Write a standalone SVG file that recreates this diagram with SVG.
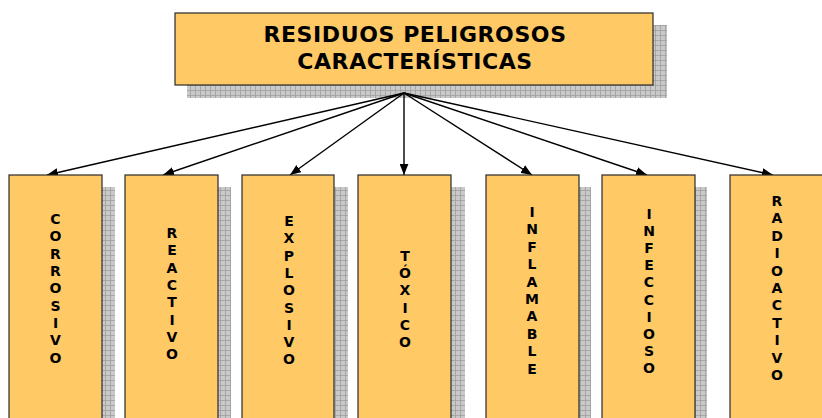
<svg xmlns="http://www.w3.org/2000/svg" width="822" height="418" viewBox="0 0 822 418">
<defs>
<pattern id="grid" width="5" height="5" patternUnits="userSpaceOnUse">
<rect width="5" height="5" fill="#c9c9c9"/>
<path d="M0 0.5H5M0.5 0V5" stroke="#9e9e9e" stroke-width="0.8" fill="none"/>
</pattern>
<marker id="ah" viewBox="0 0 10 8" refX="10" refY="4" markerWidth="11" markerHeight="9" markerUnits="userSpaceOnUse" orient="auto">
<path d="M0 0L10 4L0 8Z" fill="#000"/>
</marker>
</defs>
<style>
.box{fill:#ffc966;stroke:#2a2a2a;stroke-width:1.2}
.sh{fill:url(#grid)}
.t{font-family:"DejaVu Sans",Verdana,sans-serif;font-weight:bold;fill:#000;text-anchor:middle}
.title{font-size:22px;letter-spacing:0.6px}
.v{font-size:14px}
.c{stroke:#000;stroke-width:1.4;fill:none;marker-end:url(#ah)}
</style>
<rect width="822" height="418" fill="#fff"/>
<g id="title">
<rect class="sh" x="187" y="85" width="480" height="13"/>
<rect class="sh" x="653" y="25" width="14" height="73"/>
<rect class="box" x="175" y="13" width="478" height="72"/>
<text class="t title" x="415" y="42">RESIDUOS PELIGROSOS</text>
<text class="t title" x="415" y="69">CARACTERÍSTICAS</text>
</g>
<g id="connectors">
<line class="c" x1="404" y1="93" x2="47" y2="175"/>
<line class="c" x1="404" y1="93" x2="163" y2="175"/>
<line class="c" x1="404" y1="93" x2="290" y2="175"/>
<line class="c" x1="404" y1="93" x2="404" y2="175"/>
<line class="c" x1="404" y1="93" x2="532" y2="175"/>
<line class="c" x1="404" y1="93" x2="647" y2="175"/>
<line class="c" x1="404" y1="93" x2="773" y2="175"/>
</g>
<g id="corrosivo">
<rect class="sh" x="102" y="187" width="13" height="240"/>
<rect class="box" x="9" y="175" width="93" height="250"/>
<text class="t v" x="55.5" y="224">C<tspan x="55.5" dy="17.35">O</tspan><tspan x="55.5" dy="17.35">R</tspan><tspan x="55.5" dy="17.35">R</tspan><tspan x="55.5" dy="17.35">O</tspan><tspan x="55.5" dy="17.35">S</tspan><tspan x="55.5" dy="17.35">I</tspan><tspan x="55.5" dy="17.35">V</tspan><tspan x="55.5" dy="17.35">O</tspan></text>
</g>
<g id="reactivo">
<rect class="sh" x="218" y="187" width="13" height="240"/>
<rect class="box" x="125" y="175" width="93" height="250"/>
<text class="t v" x="172" y="238">R<tspan x="172" dy="17.3">E</tspan><tspan x="172" dy="17.3">A</tspan><tspan x="172" dy="17.3">C</tspan><tspan x="172" dy="17.3">T</tspan><tspan x="172" dy="17.3">I</tspan><tspan x="172" dy="17.3">V</tspan><tspan x="172" dy="17.3">O</tspan></text>
</g>
<g id="explosivo">
<rect class="sh" x="334" y="187" width="14" height="240"/>
<rect class="box" x="242" y="175" width="92" height="250"/>
<text class="t v" x="289" y="226">E<tspan x="289" dy="17.3">X</tspan><tspan x="289" dy="17.3">P</tspan><tspan x="289" dy="17.3">L</tspan><tspan x="289" dy="17.3">O</tspan><tspan x="289" dy="17.3">S</tspan><tspan x="289" dy="17.3">I</tspan><tspan x="289" dy="17.3">V</tspan><tspan x="289" dy="17.3">O</tspan></text>
</g>
<g id="toxico">
<rect class="sh" x="451" y="187" width="14" height="240"/>
<rect class="box" x="358" y="175" width="93" height="250"/>
<text class="t v" x="405" y="261">T<tspan x="405" dy="17.2">Ó</tspan><tspan x="405" dy="17.2">X</tspan><tspan x="405" dy="17.2">I</tspan><tspan x="405" dy="17.2">C</tspan><tspan x="405" dy="17.2">O</tspan></text>
</g>
<g id="inflamable">
<rect class="sh" x="579" y="187" width="12" height="240"/>
<rect class="box" x="486" y="175" width="93" height="250"/>
<text class="t v" x="532" y="217">I<tspan x="532" dy="17.4">N</tspan><tspan x="532" dy="17.4">F</tspan><tspan x="532" dy="17.4">L</tspan><tspan x="532" dy="17.4">A</tspan><tspan x="532" dy="17.4">M</tspan><tspan x="532" dy="17.4">A</tspan><tspan x="532" dy="17.4">B</tspan><tspan x="532" dy="17.4">L</tspan><tspan x="532" dy="17.4">E</tspan></text>
</g>
<g id="infeccioso">
<rect class="sh" x="695" y="187" width="12" height="240"/>
<rect class="box" x="602" y="175" width="93" height="250"/>
<text class="t v" x="649" y="218.5">I<tspan x="649" dy="17.2">N</tspan><tspan x="649" dy="17.2">F</tspan><tspan x="649" dy="17.2">E</tspan><tspan x="649" dy="17.2">C</tspan><tspan x="649" dy="17.2">C</tspan><tspan x="649" dy="17.2">I</tspan><tspan x="649" dy="17.2">O</tspan><tspan x="649" dy="17.2">S</tspan><tspan x="649" dy="17.2">O</tspan></text>
</g>
<g id="radioactivo">
<rect class="box" x="730" y="175" width="95" height="250"/>
<text class="t v" x="777" y="206">R<tspan x="777" dy="17.4">A</tspan><tspan x="777" dy="17.4">D</tspan><tspan x="777" dy="17.4">I</tspan><tspan x="777" dy="17.4">O</tspan><tspan x="777" dy="17.4">A</tspan><tspan x="777" dy="17.4">C</tspan><tspan x="777" dy="17.4">T</tspan><tspan x="777" dy="17.4">I</tspan><tspan x="777" dy="17.4">V</tspan><tspan x="777" dy="17.4">O</tspan></text>
</g>
</svg>
